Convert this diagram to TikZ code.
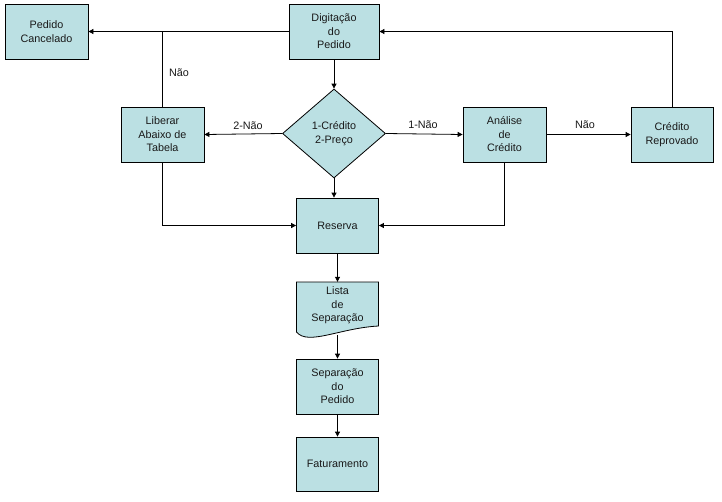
\documentclass[tikz,border=0pt]{standalone}
\usepackage{fontspec}
\setmainfont{Liberation Sans}
\usetikzlibrary{arrows.meta,shapes.geometric}
\definecolor{boxfill}{RGB}{187,224,227}
\definecolor{txt}{RGB}{25,25,25}
\tikzset{
  box/.style={draw=black, fill=boxfill, line width=0.8pt, rectangle, minimum width=83pt, minimum height=55pt, inner sep=0pt, align=center, text=txt, font=\fontsize{10.8}{13.5}\selectfont},
  dec/.style={draw=black, fill=boxfill, line width=0.8pt, diamond, minimum width=103pt, minimum height=89pt, inner sep=0pt, aspect=1.16, align=center, text=txt, font=\fontsize{10.8}{13.5}\selectfont},
  conn/.style={line width=0.8pt, draw=black},
  arr/.style={conn, -{Triangle[length=5pt,width=5pt]}},
  lbl/.style={text=txt, font=\fontsize{10.8}{13.5}\selectfont, inner sep=0pt},
}
\begin{document}
\begin{tikzpicture}[x=1pt,y=-1pt]
\useasboundingbox (0,0) rectangle (722,501);
\fill[white] (0,0) rectangle (722,501);
% nodes
\node[box] (canc) at (46.5,31.5) {Pedido\\Cancelado};
\node[box, minimum width=90pt] (dig) at (334,31.5) {Digitação\\do\\Pedido};
\node[box] (lib) at (162.5,134.5) {Liberar\\Abaixo de\\Tabela};
\node[dec] (dia) at (334,133.5) {1-Crédito\\2-Preço};
\node[box] (ana) at (504.5,134.5) {Análise\\de\\Crédito};
\node[box, minimum width=82pt] (rep) at (672,134.5) {Crédito\\Reprovado};
\node[box, minimum width=82pt] (res) at (337.5,225.5) {Reserva};
% document shape
\filldraw[fill=boxfill, draw=black, line width=0.8pt]
  (296.5,282) -- (378.5,282) -- (378.5,326)
  .. controls (340,328) and (308,346) .. (296.5,332) -- cycle;
\node[lbl, align=center, minimum width=82pt, minimum height=47pt] (lista) at (337.5,305.5) {Lista\\de\\Separação};
\coordinate (listab) at (337.5,334.8);
\node[box, minimum width=82pt] (sep) at (337.5,386.5) {Separação\\do\\Pedido};
\node[box, minimum width=82pt, minimum height=54pt] (fat) at (337.5,464) {Faturamento};
% connectors
\draw[arr] (dig.west) -- (canc.east);
\draw[conn] (lib.north) -- (lib.north |- dig.west);
\draw[arr] (dig.south) -- (dia.north);
\draw[arr] (dia.west) -- (lib.east);
\draw[arr] (dia.east) -- (ana.west);
\draw[arr] (ana.east) -- (rep.west);
\draw[arr] (rep.north) |- (dig.east);
\draw[arr] (dia.south) -- (dia.south |- res.north);
\draw[arr] (lib.south) |- (res.west);
\draw[arr] (ana.south) |- (res.east);
\draw[arr] (res.south) -- (lista.north);
\draw[arr] (listab) -- (sep.north);
\draw[arr] (sep.south) -- (fat.north);
% labels
\node[lbl] (l1) at (179,73) {Não};
\node[lbl] (l2) at (248,126) {2-Não};
\node[lbl] (l3) at (423,125) {1-Não};
\node[lbl] (l4) at (585,125) {Não};
\end{tikzpicture}
\end{document}
